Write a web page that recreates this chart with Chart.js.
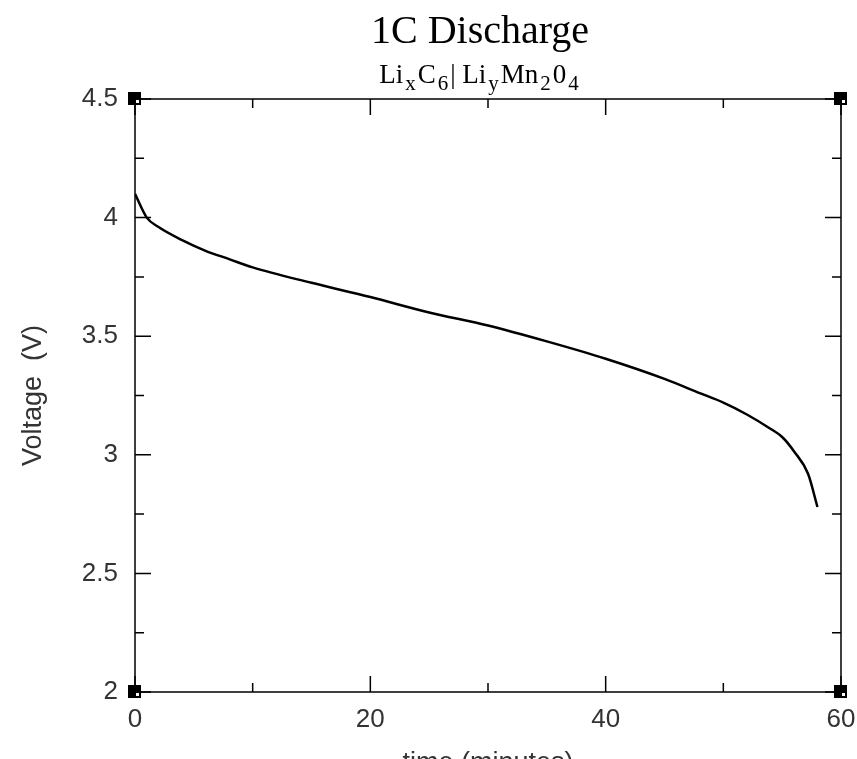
<!DOCTYPE html>
<html>
<head>
<meta charset="utf-8">
<script src="https://cdn.jsdelivr.net/npm/chart.js@4.4.1/dist/chart.umd.min.js"></script>
<style>
  html, body { margin: 0; padding: 0; background: #fff; overflow: hidden; }
  #wrap { width: 857px; height: 759px; }
</style>
</head>
<body>
<div id="wrap"><canvas id="myChart" width="857" height="759"></canvas></div>
<script>
// discharge curve
var timeMin = [0, 1, 2, 4, 6, 8, 10, 15, 20, 25, 30, 35, 40, 45, 48, 50, 52, 54, 55, 56, 57.2, 58];
var voltage = [4.10, 4.00, 3.96, 3.905, 3.86, 3.825, 3.79, 3.725, 3.665, 3.60, 3.545, 3.478, 3.405, 3.32, 3.26, 3.22, 3.17, 3.11, 3.075, 3.015, 2.92, 2.78];

var xTicks = [0, 20, 40, 60];
var yTicks = [2, 2.5, 3, 3.5, 4, 4.5];
var xMinor = [10, 30, 50];
var yMinor = [2.25, 2.75, 3.25, 3.75, 4.25];

var titleText = '1C Discharge';
// subtitle pieces, true = subscript
var subParts = [['Li', false], ['x', true], ['C', false], ['6', true], ['| Li', false], ['y', true], ['Mn', false], ['2', true], ['0', false], ['4', true]];
var xTitle = 'time (minutes)';
var yTitle = 'Voltage  (V)';

var labelFont = 'Liberation Sans, Arial, sans-serif';
var serifFont = 'Liberation Serif, Times New Roman, serif';
var textCol = '#333';

var points = [];
for (var i = 0; i < timeMin.length; i++) {
  points.push({x: timeMin[i], y: voltage[i]});
}

var framePlugin = {
  id: 'frame',
  beforeDraw: function(chart) {
    var ctx = chart.ctx;
    ctx.save();
    ctx.fillStyle = '#fff';
    ctx.fillRect(0, 0, chart.width, chart.height);
    ctx.restore();
  },
  afterDraw: function(chart) {
    var ctx = chart.ctx;
    var a = chart.chartArea;
    var sx = chart.scales.x, sy = chart.scales.y;
    ctx.save();
    ctx.strokeStyle = '#000';
    ctx.lineWidth = 1.5;
    ctx.strokeRect(a.left, a.top, a.right - a.left, a.bottom - a.top);

    // inward tick marks on all four sides
    function hTick(v, len) {
      var px = sx.getPixelForValue(v);
      ctx.beginPath();
      ctx.moveTo(px, a.bottom); ctx.lineTo(px, a.bottom - len);
      ctx.moveTo(px, a.top); ctx.lineTo(px, a.top + len);
      ctx.stroke();
    }
    function vTick(v, len) {
      var py = sy.getPixelForValue(v);
      ctx.beginPath();
      ctx.moveTo(a.left, py); ctx.lineTo(a.left + len, py);
      ctx.moveTo(a.right, py); ctx.lineTo(a.right - len, py);
      ctx.stroke();
    }
    xTicks.forEach(function(v){ hTick(v, 16); });
    xMinor.forEach(function(v){ hTick(v, 9); });
    yTicks.forEach(function(v){ vTick(v, 16); });
    yMinor.forEach(function(v){ vTick(v, 9); });

    // corner squares
    [[a.left, a.top], [a.right, a.top], [a.left, a.bottom], [a.right, a.bottom]].forEach(function(c) {
      ctx.fillStyle = '#000';
      ctx.fillRect(c[0] - 7, c[1] - 7, 13, 13);
      ctx.fillStyle = '#fff';
      ctx.fillRect(c[0] + 1, c[1] + 1, 3, 3);
    });

    // title
    var cx = 480;
    ctx.fillStyle = '#000';
    ctx.textAlign = 'center';
    ctx.textBaseline = 'alphabetic';
    ctx.font = '40px ' + serifFont;
    ctx.fillText(titleText, cx, 43);

    // subtitle with subscripts
    var mainF = '27px ' + serifFont, subF = '21px ' + serifFont;
    var total = 0;
    subParts.forEach(function(p) {
      ctx.font = p[1] ? subF : mainF;
      total += ctx.measureText(p[0]).width + (p[1] ? 4 : 0);
    });
    var x = cx - total / 2;
    ctx.textAlign = 'left';
    subParts.forEach(function(p) {
      ctx.font = p[1] ? subF : mainF;
      if (p[1]) x += 2;
      ctx.fillText(p[0], x, p[1] ? 90 : 83);
      x += ctx.measureText(p[0]).width;
      if (p[1]) x += 2;
    });

    // x title, mostly cut off by the bottom edge
    ctx.fillStyle = textCol;
    ctx.textAlign = 'center';
    ctx.font = '27px ' + labelFont;
    ctx.fillText(xTitle, (a.left + a.right) / 2, 771);
    ctx.restore();
  }
};

var myLineChart = new Chart(document.getElementById('myChart'), {
  type: 'line',
  data: {
    datasets: [{
      label: '1C',
      data: points,
      borderColor: '#000',
      borderWidth: 2.5,
      pointRadius: 0,
      cubicInterpolationMode: 'monotone',
      fill: false
    }]
  },
  options: {
    responsive: false,
    animation: false,
    layout: { padding: { top: 99, right: 16, left: 0, bottom: 0 } },
    plugins: { legend: { display: false }, tooltip: { enabled: false } },
    scales: {
      x: {
        type: 'linear',
        min: 0, max: 60,
        afterBuildTicks: function(s) { s.ticks = xTicks.map(function(v){ return {value: v}; }); },
        afterFit: function(s) { s.height = 67; s.paddingLeft = 0; s.paddingRight = 0; },
        grid: { display: false, drawTicks: false },
        border: { display: false },
        ticks: { color: textCol, font: { family: labelFont, size: 26 }, padding: 12, maxRotation: 0 }
      },
      y: {
        type: 'linear',
        min: 2, max: 4.5,
        afterBuildTicks: function(s) { s.ticks = yTicks.map(function(v){ return {value: v}; }); },
        afterFit: function(s) { s.width = 135; s.paddingTop = 0; s.paddingBottom = 0; },
        grid: { display: false, drawTicks: false },
        border: { display: false },
        title: { display: true, text: yTitle, color: textCol, font: { family: labelFont, size: 27 }, padding: { top: 17, bottom: 0 } },
        ticks: {
          color: textCol, font: { family: labelFont, size: 26 }, padding: 17,
          callback: function(v) { return String(v); }
        }
      }
    }
  },
  plugins: [framePlugin]
});
</script>
</body>
</html>
